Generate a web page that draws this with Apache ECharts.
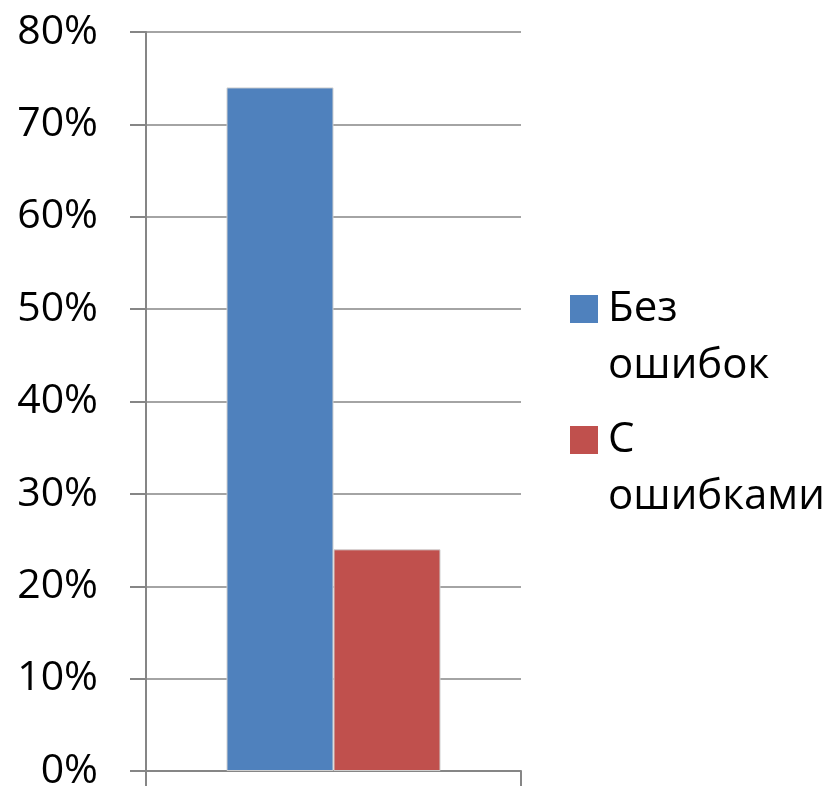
<!DOCTYPE html>
<html>
<head>
<meta charset="utf-8">
<script src="https://cdn.jsdelivr.net/npm/echarts@6/dist/echarts.min.js"></script>
<style>
  html, body { margin: 0; padding: 0; background: #fff; }
  #root { width: 833px; height: 792px; }
</style>
</head>
<body>
<div id="root"></div>
<script>
const categories = ['']
const seriesNames = ['Без\nошибок', 'С\nошибками']
const seriesValues = [[74], [24]]
const seriesColors = ['#4F81BD', '#C0504D']
const yTicks = { min: 0, max: 80, interval: 10 }

const chart = echarts.init(document.getElementById('root'))
const font = '"Open Sans", "Liberation Sans", sans-serif'
const axisGray = '#868686'

// square sitting beside the first line of a two-line legend label
const legendIcon = 'path://M0,0M33,114M0,14h28v28h-28z'

chart.setOption({
  animation: false,
  backgroundColor: '#fff',
  grid: { left: 146, right: 312, top: 32, bottom: 21, containLabel: false },
  legend: {
    orient: 'vertical',
    left: 565,
    top: 276,
    itemWidth: 33,
    itemHeight: 114,
    itemGap: 17,
    icon: legendIcon,
    itemStyle: { borderWidth: 0 },
    textStyle: {
      fontFamily: font, fontSize: 42, color: '#000', lineHeight: 57
    },
    data: seriesNames
  },
  xAxis: {
    type: 'category',
    data: categories,
    axisLine: { lineStyle: { color: axisGray, width: 2 } },
    axisTick: { show: true, length: 15, lineStyle: { color: axisGray, width: 2 } },
    axisLabel: { show: false }
  },
  yAxis: {
    type: 'value',
    min: yTicks.min, max: yTicks.max, interval: yTicks.interval,
    axisLine: { show: true, lineStyle: { color: axisGray, width: 2 } },
    axisTick: { show: true, length: 16, lineStyle: { color: axisGray, width: 2 } },
    splitLine: { lineStyle: { color: axisGray, width: 1.5 } },
    axisLabel: {
      formatter: '{value}%', margin: 48,
      fontFamily: font, fontSize: 41, color: '#000'
    }
  },
  series: seriesNames.map((name, i) => ({
    name,
    type: 'bar',
    data: seriesValues[i],
    barWidth: 107,
    barGap: '0%',
    itemStyle: { color: seriesColors[i], borderColor: '#d0d0d0', borderWidth: 1 }
  }))
})
</script>
</body>
</html>
